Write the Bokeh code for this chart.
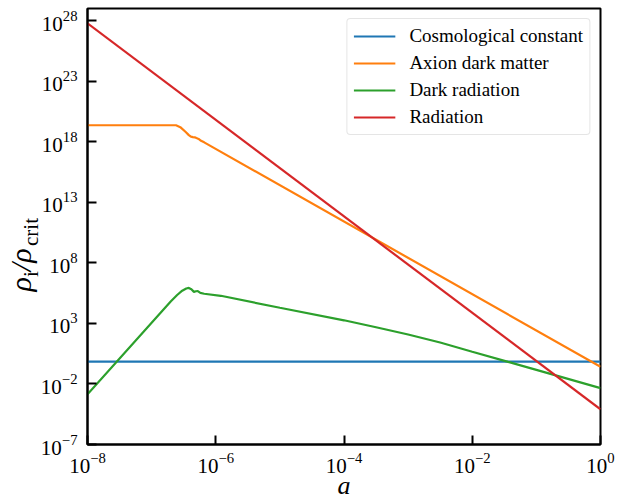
from bokeh.plotting import figure
from bokeh.models import Range1d, FixedTicker, Legend, LegendItem, LogAxis
from bokeh.embed import file_html
from bokeh.resources import INLINE

# ---- data ----
a_lambda = [1e-8, 1.0]
rho_lambda = [0.69, 0.69]

a_axion = [1e-8, 2.4e-7, 2.8e-7, 3.4e-7, 3.8e-7, 4.1e-7, 4.4e-7, 4.7e-7, 5.0e-7,
           5.4e-7, 5.9e-7, 6.6e-7, 1.0]
rho_axion = [2.3e19, 2.3e19, 1.6e19, 6.3e18, 3.5e18, 2.6e18, 2.4e18, 2.3e18, 2.0e18,
             1.7e18, 1.2e18, 8.9e17, 0.26]

a_dr = [1e-8, 1.38e-7, 2.0e-7, 2.5e-7, 3.0e-7, 3.47e-7, 3.8e-7, 4.17e-7, 4.57e-7,
        4.9e-7, 5.25e-7, 5.75e-7, 6.6e-7, 1.2e-6, 1e-5, 1e-4, 3.16e-4, 1e-3,
        3.16e-3, 1e-2, 3.63e-2, 0.1, 1.0]
rho_dr = [1.4e-3, 7.6e3, 6.8e4, 2.2e5, 5.0e5, 7.6e5, 8.5e5, 6.6e5, 4.0e5,
          4.5e5, 4.6e5, 3.3e5, 2.8e5, 1.9e5, 1.95e4, 1.8e3, 479, 120,
          26.3, 4.57, 0.66, 0.145, 4.5e-3]

a_rad = [1e-8, 1.0]
rho_rad = [6e27, 8e-5]

x_ticks = [1e-8, 1e-6, 1e-4, 1e-2, 1.0]
y_ticks = [1e-7, 1e-2, 1e3, 1e8, 1e13, 1e18, 1e23, 1e28]

labels = ["Cosmological constant", "Axion dark matter", "Dark radiation", "Radiation"]
colors = ["#1f77b4", "#ff7f0e", "#2ca02c", "#d62728"]

FONT = "Liberation Serif"

# y label "ρ_i / ρ_crit": main-size glyphs and subscript glyphs on two baselines,
# kept in step with non-collapsing spaces
EM, EN, THIN = "\u2003", "\u2002", "\u2009"
ylabel_main = "ρ" + THIN + "/" + "ρ" + EM + EM + THIN + THIN + EN
ylabel_sub = EN + THIN + "i" + EM + THIN + "crit" + EM + EM + EN + THIN

p = figure(width=639, height=502, x_axis_type="log", y_axis_type="log",
           x_range=Range1d(1e-8, 1.0), y_range=Range1d(1e-7, 1e29),
           output_backend="svg", toolbar_location=None, title=None,
           min_border_left=87, min_border_right=39, min_border_top=8,
           min_border_bottom=56)

p.xgrid.visible = False
p.ygrid.visible = False
p.outline_line_color = "black"
p.outline_line_width = 2
p.outline_line_alpha = 1.0

p.xaxis.ticker = FixedTicker(ticks=x_ticks, minor_ticks=[])
p.yaxis.ticker = FixedTicker(ticks=y_ticks, minor_ticks=[])
for ax in (p.xaxis, p.yaxis):
    ax.axis_line_width = 2
    ax.axis_line_color = "black"
    ax.major_tick_line_width = 2
    ax.major_tick_in = 9
    ax.major_tick_out = 0
    ax.minor_tick_line_color = None
    ax.major_label_text_font = FONT
    ax.major_label_text_font_size = "21px"
    ax.major_label_text_color = "black"
    ax.axis_label_text_font = FONT
    ax.axis_label_text_color = "black"
p.xaxis.major_label_standoff = 8
p.yaxis.major_label_standoff = 10

p.xaxis.axis_label = "a"
p.xaxis.axis_label_text_font_style = "italic"
p.xaxis.axis_label_text_font_size = "26px"
p.xaxis.axis_label_standoff = -5

# inner left axis carries the subscripts
p.yaxis.axis_label = ylabel_sub
p.yaxis.axis_label_text_font_style = "normal"
p.yaxis.axis_label_text_font_size = "21px"
p.yaxis.axis_label_standoff = -5

# outer left axis (no ticks, no line) carries the main glyphs
outer = LogAxis(ticker=FixedTicker(ticks=[], minor_ticks=[]))
outer.axis_line_color = None
outer.major_tick_line_color = None
outer.minor_tick_line_color = None
outer.major_tick_in = 0
outer.major_tick_out = 0
outer.minor_tick_in = 0
outer.minor_tick_out = 0
outer.major_label_standoff = 0
outer.major_label_text_font_size = "0px"
outer.axis_label = ylabel_main
outer.axis_label_text_font = FONT
outer.axis_label_text_font_style = "italic"
outer.axis_label_text_font_size = "30px"
outer.axis_label_text_color = "black"
outer.axis_label_standoff = -21
p.add_layout(outer, "left")

series = [(a_lambda, rho_lambda), (a_axion, rho_axion), (a_dr, rho_dr), (a_rad, rho_rad)]
items = []
for (xs, ys), lab, col in zip(series, labels, colors):
    r = p.line(xs, ys, line_color=col, line_width=2.2)
    items.append(LegendItem(label=lab, renderers=[r]))

legend = Legend(items=items, location="top_right", margin=10)
legend.label_text_font = FONT
legend.label_text_font_size = "19px"
legend.label_text_color = "black"
legend.glyph_width = 42
legend.glyph_height = 18
legend.label_height = 18
legend.spacing = 5
legend.padding = 6
legend.label_standoff = 14
legend.border_line_color = "#cccccc"
legend.border_line_width = 1
legend.background_fill_alpha = 0.85
try:
    legend.border_radius = 4
except Exception:
    pass
p.add_layout(legend)

open("out.html", "w").write(file_html(p, INLINE))
